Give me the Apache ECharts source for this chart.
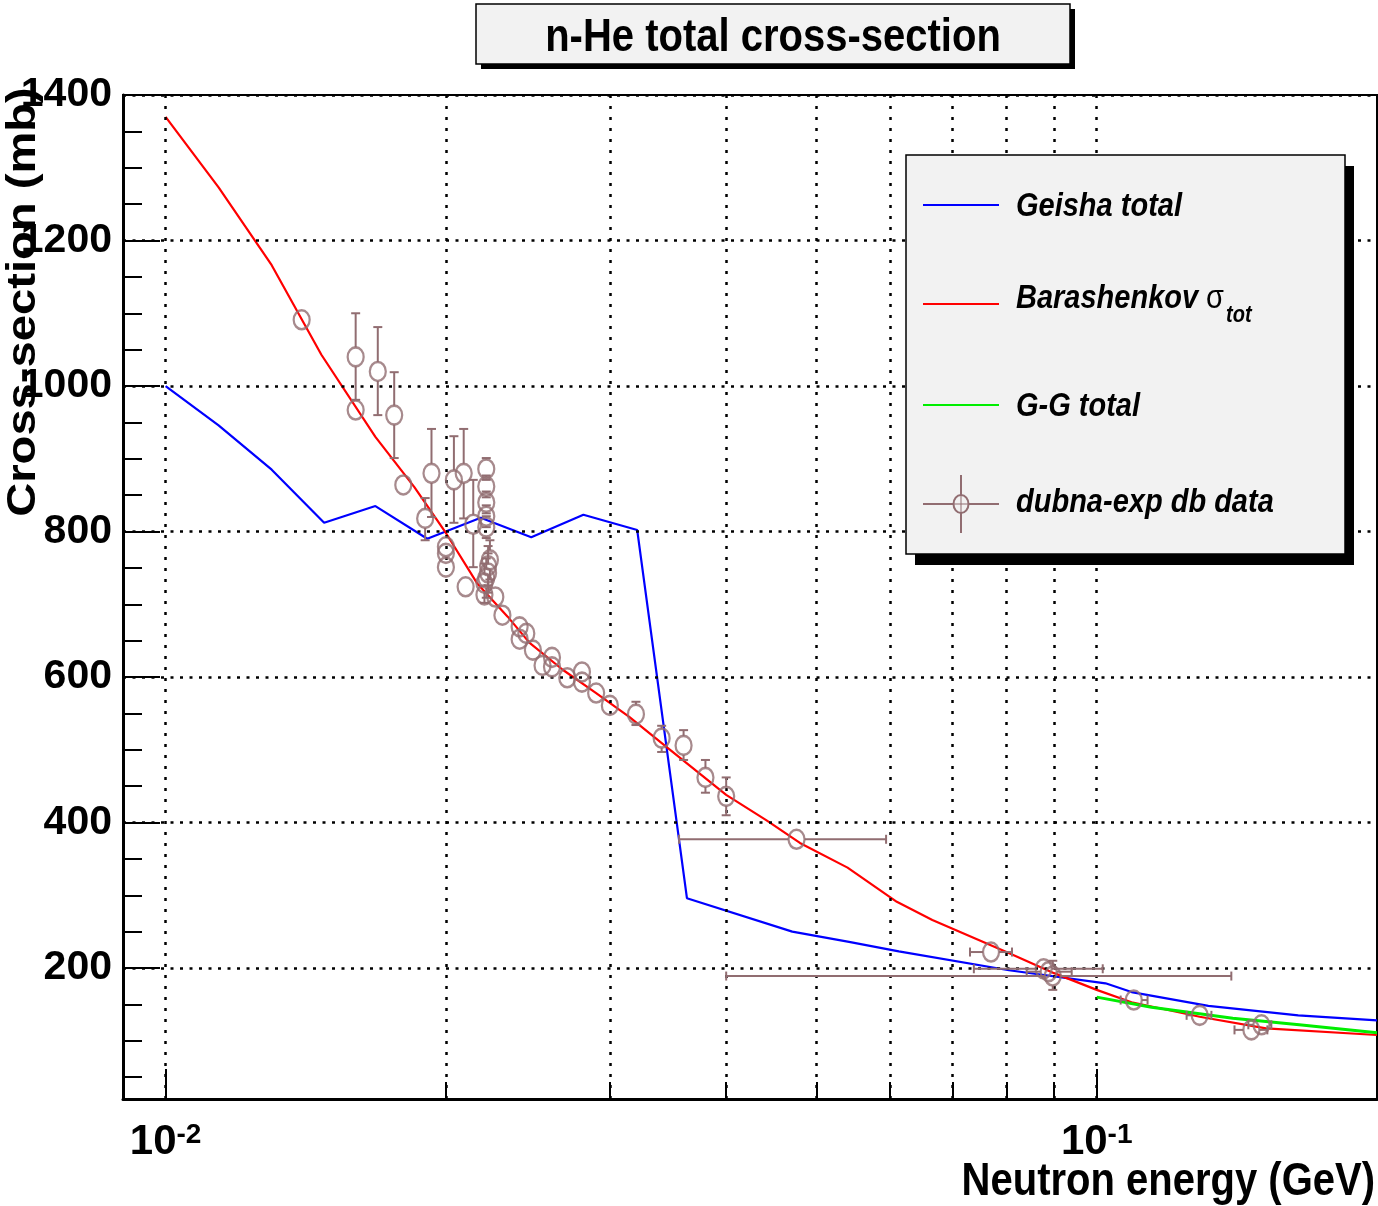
<!DOCTYPE html>
<html>
<head>
<meta charset="utf-8">
<script src="https://cdn.jsdelivr.net/npm/echarts@6/dist/echarts.min.js"></script>
<style>html,body{margin:0;padding:0;background:#fff}#c{width:1378px;height:1206px}</style>
</head>
<body>
<div id="c"></div>
<script>
// ---------------- data (energy in GeV, cross-section in mb) ----------------
const geishaE     = [0.01, 0.0114, 0.013, 0.0148, 0.0168, 0.0191, 0.0218, 0.0247, 0.0281, 0.0321, 0.0363, 0.0471, 0.0542, 0.0613, 0.0805, 0.1022, 0.109, 0.1318, 0.1646, 0.2];
const geishaSigma = [1000, 946, 885, 812, 835, 790, 819, 792, 823, 802, 296, 250, 236, 223, 197, 179, 167, 148, 135, 128];

const barE     = [0.01, 0.0114, 0.013, 0.0147, 0.0168, 0.0185, 0.02, 0.0216, 0.0233, 0.0246, 0.0267, 0.029, 0.0315, 0.0345, 0.04, 0.0442, 0.048, 0.054, 0.061, 0.0666, 0.08, 0.09, 0.1, 0.109, 0.129, 0.152, 0.2];
const barSigma = [1370, 1273, 1166, 1043, 930, 861, 798, 729, 683, 647, 610, 578, 545, 504, 438, 403, 372, 338, 291, 266, 222, 193, 170, 153, 133, 117, 108];

const ggE     = [0.1, 0.1145, 0.14, 0.165, 0.2];
const ggSigma = [160, 146, 131, 122, 111];

const dubnaE = [
  0.0140, 0.0160, 0.0160, 0.0169, 0.0176, 0.0180, 0.0190, 0.0193, 0.0200, 0.0200, 0.0200, 0.0204, 0.0209, 0.0214, 0.0210,
  0.0221, 0.0221, 0.0221, 0.0221, 0.0221,
  0.0223, 0.0222, 0.0222, 0.0221, 0.0220,
  0.0220, 0.0226, 0.0230, 0.0240, 0.0244, 0.0240, 0.0248, 0.0254, 0.0260, 0.0260, 0.0270, 0.0280, 0.0280, 0.0290, 0.0300,
  0.0320, 0.0341, 0.0360, 0.0380, 0.0400, 0.0476,
  0.0770, 0.0877, 0.0888, 0.0897, 0.1096, 0.1290, 0.1466, 0.1503];
const dubnaSigma = [
  1091, 1040, 967, 1020, 960, 864, 818, 880, 779, 770, 751, 871, 880, 810, 724,
  886, 862, 840, 821, 806,
  761, 753, 743, 736, 729,
  713, 710, 685, 669, 660, 652, 637, 616, 627, 614, 599, 607, 593, 578, 561,
  549, 516, 506, 462, 436, 377,
  222, 199, 195, 189, 156, 135, 115, 122];
const dubnaSigmaLo = [
  null, 981, null, 960, 901, null, 788, 820, null, null, null, 812, 818, 751, null,
  871, 847, 825, 806, 791,
  734, 726, 716, 709, 702,
  null, null, null, null, null, null, null, null, null, null, null, null, null, null, null,
  534, 497, 486, 441, 410, null,
  null, null, null, 170, null, null, null, null];
const dubnaSigmaHi = [
  null, 1100, null, 1081, 1019, null, 846, 941, null, null, null, 931, 941, 871, null,
  901, 877, 855, 836, 821,
  788, 780, 770, 763, 756,
  null, null, null, null, null, null, null, null, null, null, null, null, null, null, null,
  566, 533, 527, 486, 462, null,
  null, null, null, 210, null, null, null, null];
const dubnaELo = [
  null, null, null, null, null, null, null, null, null, null, null, null, null, null, null,
  null, null, null, null, null,
  null, null, null, null, null,
  null, null, null, null, null, null, null, null, null, null, null, null, null, null, null,
  null, null, null, null, null, 0.0356,
  0.0731, 0.0738, 0.0841, 0.0400, 0.1061, 0.1249, 0.1406, 0.1455];
const dubnaEHi = [
  null, null, null, null, null, null, null, null, null, null, null, null, null, null, null,
  null, null, null, null, null,
  null, null, null, null, null,
  null, null, null, null, null, null, null, null, null, null, null, null, null, null, null,
  null, null, null, null, null, 0.0594,
  0.0811, 0.1015, 0.0940, 0.1395, 0.1134, 0.1328, 0.1525, 0.1540];

// axis ticks / labels
const xMajorTicks = [0.01, 0.1];
const xMinorTicks = [0.02, 0.03, 0.04, 0.05, 0.06, 0.07, 0.08, 0.09, 0.2];
const xGridLines  = [0.01, 0.02, 0.03, 0.04, 0.05, 0.06, 0.07, 0.08, 0.09, 0.1];
const yMajorTicks = [200, 400, 600, 800, 1000, 1200, 1400];
const yMinorTicks = [50, 100, 150, 250, 300, 350, 450, 500, 550, 650, 700, 750, 850, 900, 950, 1050, 1100, 1150, 1250, 1300, 1350];

// ---------------- styling ----------------
const FONT = '"Liberation Sans", Arial, Helvetica, sans-serif';
const MAUVE = '#916d71';
const RX = 8, RY = 9.5, CAP = 4.5;

const pairs = (xs, ys) => xs.map((x, i) => [x, ys[i]]);
const errData = dubnaE.map((e, i) => [
  e, dubnaSigma[i],
  dubnaELo[i] == null ? e : dubnaELo[i],
  dubnaEHi[i] == null ? e : dubnaEHi[i],
  dubnaSigmaLo[i] == null ? dubnaSigma[i] : dubnaSigmaLo[i],
  dubnaSigmaHi[i] == null ? dubnaSigma[i] : dubnaSigmaHi[i]
]);

function seg(x1, y1, x2, y2) {
  return {type: 'line', shape: {x1, y1, x2, y2}, style: {stroke: MAUVE, lineWidth: 2}};
}
function renderErr(params, api) {
  const x = api.value(0), y = api.value(1);
  const p = api.coord([x, y]);
  const xl = api.coord([api.value(2), y])[0];
  const xh = api.coord([api.value(3), y])[0];
  const yl = api.coord([x, api.value(4)])[1];
  const yh = api.coord([x, api.value(5)])[1];
  const kids = [];
  if (p[1] - yh > RY + 1) { kids.push(seg(p[0], p[1] - RY, p[0], yh)); kids.push(seg(p[0] - CAP, yh, p[0] + CAP, yh)); }
  if (yl - p[1] > RY + 1) { kids.push(seg(p[0], p[1] + RY, p[0], yl)); kids.push(seg(p[0] - CAP, yl, p[0] + CAP, yl)); }
  if (p[0] - xl > RX + 1) { kids.push(seg(p[0] - RX, p[1], xl, p[1])); kids.push(seg(xl, p[1] - CAP, xl, p[1] + CAP)); }
  if (xh - p[0] > RX + 1) { kids.push(seg(p[0] + RX, p[1], xh, p[1])); kids.push(seg(xh, p[1] - CAP, xh, p[1] + CAP)); }
  return {type: 'group', children: kids};
}

const gridLineData = []
  .concat(yMajorTicks.map(v => ({yAxis: v, lineStyle: {type: [3, 6.5], width: 2.5, color: '#000'}})))
  .concat(xGridLines.map(v => ({xAxis: v, lineStyle: {type: [3, 8], width: 2.5, color: '#000'}})));

const legendText = (x, y, txt, font) => ({
  type: 'text', x: x, y: y, scaleY: 1.15, z: 102,
  style: {text: txt, fill: '#000', align: 'left', verticalAlign: 'middle',
          font: font || ('italic bold 29px ' + FONT)}
});

const option = {
  animation: false,
  backgroundColor: '#fff',
  grid: {left: 123, top: 95, width: 1254, height: 1004, show: true, borderColor: '#000', borderWidth: 2, backgroundColor: 'transparent'},
  xAxis: [{
    type: 'log', logBase: 10, min: 0.009, max: 0.2, position: 'bottom',
    axisLine: {show: true, onZero: false, lineStyle: {color: '#000', width: 3}},
    axisTick: {show: true, inside: true, length: 30, customValues: xMajorTicks, lineStyle: {color: '#000', width: 2}},
    axisLabel: {
      customValues: xMajorTicks, margin: 22, color: '#000',
      formatter: v => '{b|10}{s|' + Math.round(Math.log10(v)) + '}',
      rich: {
        b: {fontSize: 42, fontWeight: 'bold', fontFamily: FONT, color: '#000', lineHeight: 52, verticalAlign: 'top'},
        s: {fontSize: 28, fontWeight: 'bold', fontFamily: FONT, color: '#000', lineHeight: 22, verticalAlign: 'top'}
      }
    },
    splitLine: {show: false}, minorTick: {show: false}, minorSplitLine: {show: false}
  }, {
    type: 'log', logBase: 10, min: 0.009, max: 0.2, position: 'bottom',
    axisLine: {show: false},
    axisTick: {show: true, inside: true, length: 17, customValues: xMinorTicks, lineStyle: {color: '#000', width: 2}},
    axisLabel: {show: false}, splitLine: {show: false}
  }],
  yAxis: [{
    type: 'value', min: 20, max: 1400, position: 'left',
    axisLine: {show: true, onZero: false, lineStyle: {color: '#000', width: 3}},
    axisTick: {show: true, inside: true, length: 37, customValues: yMajorTicks, lineStyle: {color: '#000', width: 2}},
    axisLabel: {customValues: yMajorTicks, margin: 11, fontSize: 41, fontWeight: 'bold', fontFamily: FONT, color: '#000',
                formatter: v => String(v)},
    splitLine: {show: false}
  }, {
    type: 'value', min: 20, max: 1400, position: 'left',
    axisLine: {show: false},
    axisTick: {show: true, inside: true, length: 19, customValues: yMinorTicks, lineStyle: {color: '#000', width: 2}},
    axisLabel: {show: false}, splitLine: {show: false}
  }],
  series: [
    {
      name: 'grid', type: 'line', data: [], z: 1, silent: true,
      markLine: {silent: true, symbol: ['none', 'none'], label: {show: false}, animation: false, data: gridLineData}
    },
    {name: 'Geisha total', type: 'line', data: pairs(geishaE, geishaSigma), showSymbol: false, z: 3,
     lineStyle: {color: '#0000ff', width: 2.2}, itemStyle: {color: '#0000ff'}},
    {name: 'Barashenkov', type: 'line', data: pairs(barE, barSigma), showSymbol: false, z: 4,
     lineStyle: {color: '#ff0000', width: 2.2}, itemStyle: {color: '#ff0000'}},
    {name: 'G-G total', type: 'line', data: pairs(ggE, ggSigma), showSymbol: false, z: 5,
     lineStyle: {color: '#00ee00', width: 3}, itemStyle: {color: '#00ee00'}},
    {name: 'dubna errors', type: 'custom', data: errData, renderItem: renderErr, z: 6,
     encode: {x: 0, y: 1}, silent: true},
    {name: 'dubna-exp db data', type: 'scatter', data: pairs(dubnaE, dubnaSigma), z: 7,
     symbol: 'circle', symbolSize: [16, 19],
     itemStyle: {color: 'rgba(0,0,0,0)', borderColor: MAUVE, borderWidth: 2.4}}
  ],
  graphic: [
    // title box
    {type: 'rect', shape: {x: 481, y: 9, width: 594, height: 60}, style: {fill: '#000'}, z: 100},
    {type: 'rect', shape: {x: 476, y: 4, width: 594, height: 60}, style: {fill: '#f2f2f2', stroke: '#000', lineWidth: 1.5}, z: 101},
    {type: 'text', x: 773, y: 38, scaleY: 1.15, z: 102,
     style: {text: 'n-He total cross-section', fill: '#000', align: 'center', verticalAlign: 'middle', font: 'bold 40px ' + FONT}},
    // axis titles
    {type: 'text', x: 1375, y: 1182, scaleY: 1.15, z: 102,
     style: {text: 'Neutron energy (GeV)', fill: '#000', align: 'right', verticalAlign: 'middle', font: 'bold 40px ' + FONT}},
    {type: 'text', x: 24, y: 302, rotation: Math.PI / 2, scaleX: 1.15, z: 102,
     style: {text: 'Cross-section (mb)', fill: '#000', align: 'center', verticalAlign: 'middle', font: 'bold 41px ' + FONT}},
    // legend box
    {type: 'rect', shape: {x: 915, y: 166, width: 439, height: 399}, style: {fill: '#000'}, z: 100},
    {type: 'rect', shape: {x: 906, y: 155, width: 439, height: 399}, style: {fill: '#f2f2f2', stroke: '#000', lineWidth: 1.5}, z: 101},
    {type: 'line', shape: {x1: 923, y1: 205, x2: 999, y2: 205}, style: {stroke: '#0000ff', lineWidth: 2}, z: 102},
    legendText(1016, 207, 'Geisha total'),
    {type: 'line', shape: {x1: 923, y1: 304, x2: 999, y2: 304}, style: {stroke: '#ff0000', lineWidth: 2}, z: 102},
    legendText(1016, 299, 'Barashenkov'),
    legendText(1206, 299, 'σ', '29px ' + FONT),
    legendText(1226, 316, 'tot', 'italic bold 20px ' + FONT),
    {type: 'line', shape: {x1: 923, y1: 405, x2: 999, y2: 405}, style: {stroke: '#00ee00', lineWidth: 2}, z: 102},
    legendText(1016, 407, 'G-G total'),
    {type: 'line', shape: {x1: 923, y1: 504, x2: 953, y2: 504}, style: {stroke: MAUVE, lineWidth: 2}, z: 102},
    {type: 'line', shape: {x1: 969, y1: 504, x2: 999, y2: 504}, style: {stroke: MAUVE, lineWidth: 2}, z: 102},
    {type: 'line', shape: {x1: 961, y1: 475, x2: 961, y2: 495}, style: {stroke: MAUVE, lineWidth: 2}, z: 102},
    {type: 'line', shape: {x1: 961, y1: 513, x2: 961, y2: 533}, style: {stroke: MAUVE, lineWidth: 2}, z: 102},
    {type: 'ellipse', shape: {cx: 961, cy: 504, rx: 7.5, ry: 9}, style: {fill: 'none', stroke: MAUVE, lineWidth: 2}, z: 102},
    {type: 'line', shape: {x1: 953, y1: 504, x2: 969, y2: 504}, style: {stroke: MAUVE, lineWidth: 1}, z: 102},
    {type: 'line', shape: {x1: 961, y1: 495, x2: 961, y2: 513}, style: {stroke: MAUVE, lineWidth: 1}, z: 102},
    legendText(1016, 503, 'dubna-exp db data')
  ]
};

const chart = echarts.init(document.getElementById('c'), null, {renderer: 'canvas', width: 1378, height: 1206});
chart.setOption(option);
</script>
</body>
</html>
